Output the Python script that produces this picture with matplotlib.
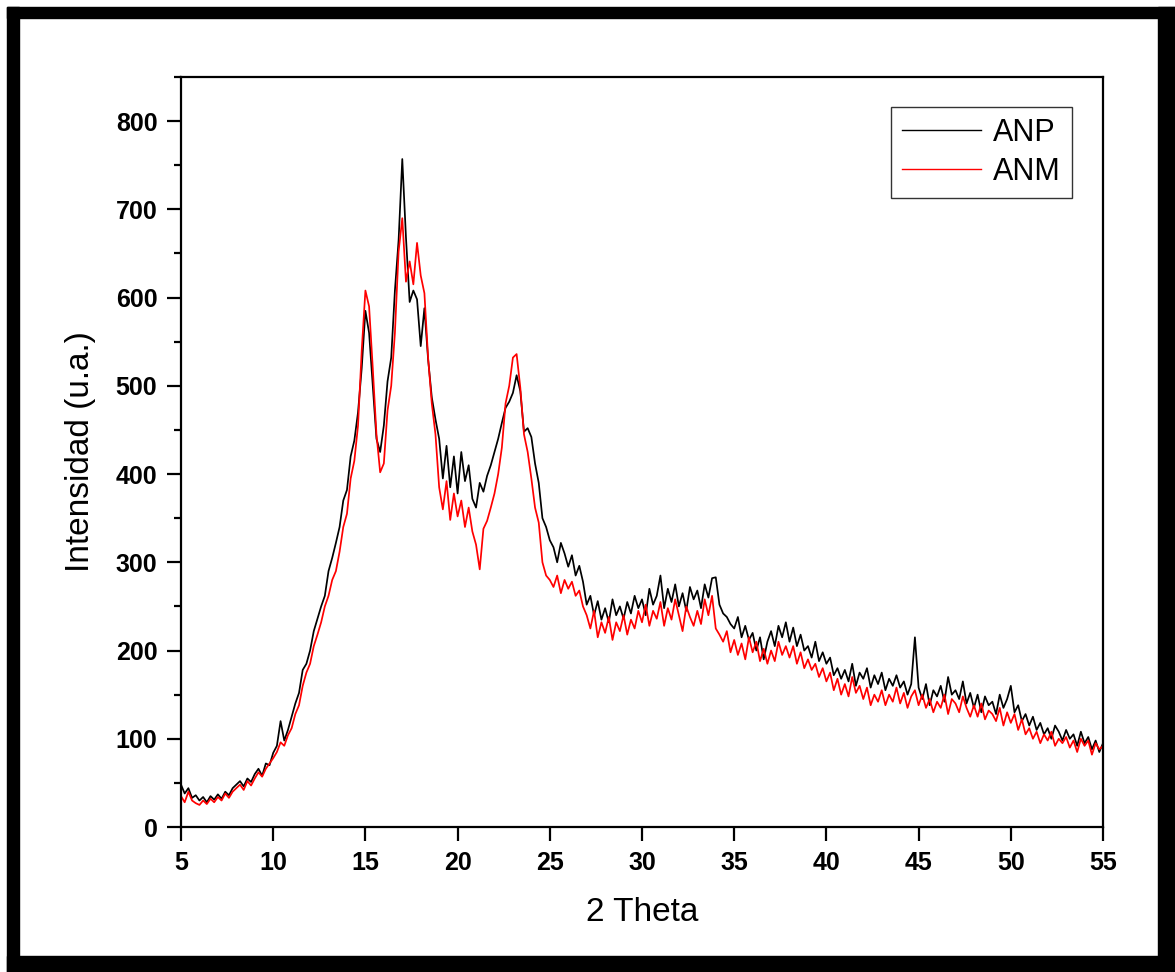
import numpy as np
import matplotlib
matplotlib.use("Agg")
import matplotlib.pyplot as plt
from matplotlib.patches import Rectangle

plt.rcParams['font.family'] = ['Liberation Sans', 'DejaVu Sans']

# 2 theta grid, 0.2 deg step from 5 to 55
two_theta = np.linspace(5, 55, 251)

anp = [
    48, 38, 44, 33, 36,
    30, 34, 28, 35, 31,
    37, 32, 40, 36, 44,
    48, 52, 46, 55, 51,
    60, 66, 58, 72, 70,
    84, 92, 120, 98, 110,
    125, 140, 152, 178, 185,
    200, 222, 236, 250, 262,
    290, 305, 322, 340, 370,
    382, 420, 438, 470, 520,
    585, 560, 500, 440, 425,
    455, 505, 532, 608, 665,
    757, 668, 595, 608, 598,
    545, 588, 530, 487, 462,
    440, 395, 432, 385, 420,
    378, 425, 392, 410, 372,
    362, 390, 380, 398, 410,
    425, 440, 458, 475, 482,
    492, 512, 494, 448, 452,
    442, 412, 390, 350, 340,
    325, 317, 300, 322, 310,
    295, 308, 285, 296, 278,
    252, 262, 240, 256, 235,
    248, 232, 258, 240, 250,
    236, 255, 242, 262, 248,
    258, 240, 270, 252, 262,
    285, 248, 270, 255, 275,
    250, 265, 245, 272, 258,
    268, 248, 275, 260, 282,
    283, 252, 242, 238, 230,
    225, 238, 215, 228, 212,
    220, 200, 215, 190, 210,
    222, 205, 228, 215, 232,
    210, 226, 205, 218, 200,
    205, 192, 210, 188, 198,
    185, 192, 172, 180, 168,
    178, 165, 185, 160, 175,
    168, 180, 158, 172, 162,
    175, 155, 168, 160, 172,
    158, 165, 150, 162, 215,
    158, 145, 162, 138, 155,
    148, 160, 142, 170, 150,
    155, 145, 165, 140, 152,
    135, 150, 130, 148, 138,
    142, 128, 150, 135, 145,
    160, 130, 138, 120, 128,
    115, 125, 110, 118, 105,
    112, 100, 115, 108, 98,
    110, 100, 105, 92, 108,
    95, 102, 88, 98, 85,
    95,
]

anm = [
    35, 28, 40, 30, 27,
    25, 30, 26, 32, 28,
    34, 30, 38, 33, 40,
    44, 48, 42, 52, 47,
    55, 62, 57, 66, 72,
    78, 85, 96, 92, 104,
    112, 128, 138, 160, 175,
    185, 205, 218, 232, 250,
    262, 280, 290, 312, 340,
    355, 395, 415, 455, 540,
    608, 590, 520, 445, 402,
    412, 472, 500, 560, 652,
    690, 618, 641, 615, 662,
    625, 605, 532, 480, 445,
    385, 360, 392, 348, 378,
    352, 370, 340, 362, 335,
    320, 292, 338, 347, 362,
    378, 400, 430, 480, 500,
    532, 536, 498, 445, 425,
    395, 362, 345, 300, 285,
    280, 272, 285, 265, 280,
    270, 278, 262, 268, 250,
    240, 225, 245, 215, 232,
    220, 238, 212, 232, 222,
    240, 218, 235, 225, 245,
    232, 252, 228, 245, 236,
    255, 228, 248, 235, 258,
    240, 222, 250, 238, 228,
    245, 230, 258, 240, 262,
    225, 218, 210, 222, 198,
    212, 195, 208, 190, 215,
    198, 210, 188, 202, 185,
    200, 188, 210, 195, 205,
    192, 205, 185, 198, 180,
    190, 178, 185, 170, 180,
    165, 175, 155, 168, 150,
    162, 148, 170, 152, 160,
    145, 158, 138, 150, 142,
    155, 138, 150, 142, 158,
    140, 152, 135, 148, 155,
    138, 150, 135, 145, 130,
    142, 135, 150, 128, 145,
    140, 130, 148, 135, 125,
    138, 125, 140, 122, 132,
    128, 120, 135, 115, 130,
    118, 128, 110, 122, 105,
    112, 100, 108, 95, 105,
    98, 108, 92, 100, 95,
    102, 90, 98, 85, 100,
    92, 98, 82, 95, 88,
    92,
]

W, H = 1175, 972
fig = plt.figure(figsize=(W / 100, H / 100), dpi=100)

# thick black frame round the picture
for (x0, y0, w, h) in [(7, 7, 12, 965), (7, 7, 1168, 11), (1158, 7, 17, 965), (7, 956, 1168, 16)]:
    fig.add_artist(Rectangle((x0 / W, 1 - (y0 + h) / H), w / W, h / H,
                             transform=fig.transFigure, color='black', zorder=0))

ax = fig.add_axes([181 / W, 1 - 827 / H, (1103 - 181) / W, (827 - 77) / H])

ax.plot(two_theta, anp, color='black', lw=1.25, label='ANP')
ax.plot(two_theta, anm, color='#ff0000', lw=1.25, label='ANM')

ax.set_xlim(5, 55)
ax.set_ylim(0, 850)
ax.set_xticks(np.arange(5, 56, 5))
ax.set_yticks(np.arange(0, 801, 100))
ax.set_yticks(np.arange(50, 851, 100), minor=True)

for s in ax.spines.values():
    s.set_linewidth(1.6)

ax.tick_params(axis='both', which='major', direction='out', length=10, width=1.6,
               labelsize=18, pad=7)
ax.tick_params(axis='y', which='minor', direction='out', length=5, width=1.6)
for lab in ax.get_xticklabels() + ax.get_yticklabels():
    lab.set_fontweight('bold')

ax.set_xlabel('2 Theta', fontsize=24, labelpad=16)
ax.set_ylabel('Intensidad (u.a.)', fontsize=24, labelpad=14)

leg = ax.legend(loc='upper right', bbox_to_anchor=(0.966, 0.96), fontsize=22,
                frameon=True, fancybox=False, edgecolor='black', handlelength=2.6,
                borderpad=0.35, labelspacing=0.3, handletextpad=0.4, borderaxespad=0)
leg.get_frame().set_linewidth(1.0)
for ln in leg.get_lines():
    ln.set_linewidth(1.0)

fig.savefig('out.png', dpi=100, facecolor='white')
